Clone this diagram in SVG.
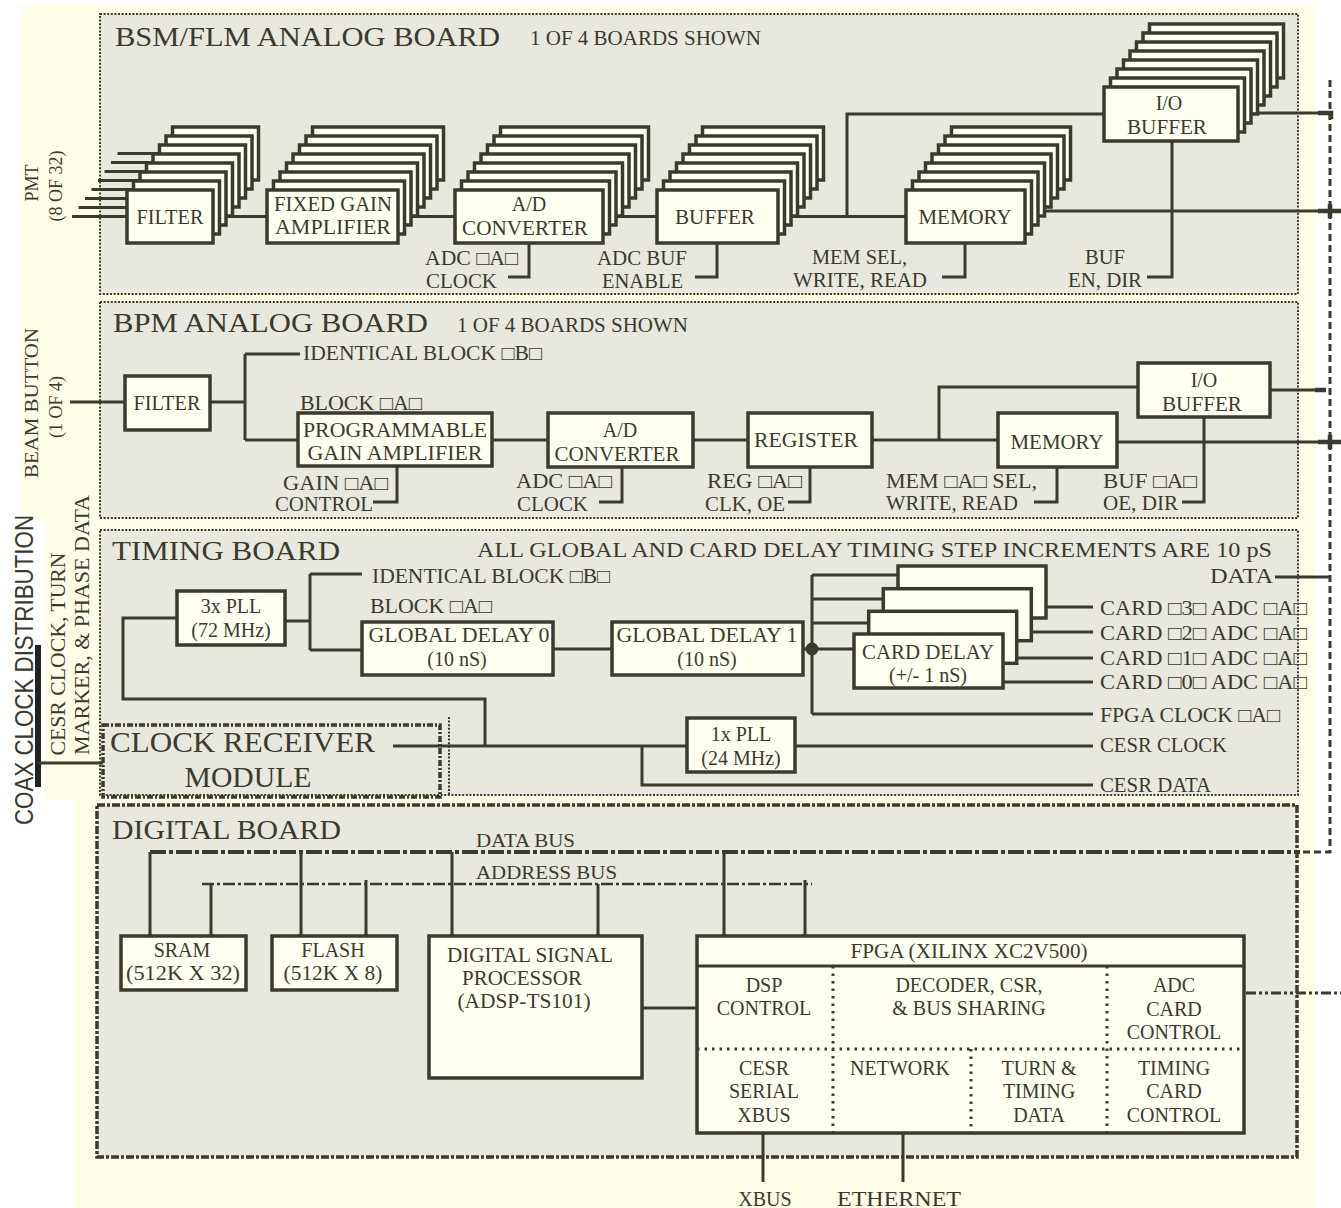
<svg xmlns="http://www.w3.org/2000/svg" width="1341" height="1208" viewBox="0 0 1341 1208">
<style>
.panel{fill:#e8e8df;stroke:#3b3a2e;stroke-width:2;stroke-dasharray:2 1.6}
.bx{fill:#fffff2;stroke:#3b3a2e;stroke-width:3.5}
.ln{fill:none;stroke:#3b3a2e;stroke-width:3}
.t{font-family:"Liberation Serif","DejaVu Serif",serif;font-size:20px;fill:#3a3a30}
.c{text-anchor:middle}
.big{font-size:28px}
.sm{font-size:19px}
</style>
<rect x="0" y="0" width="1341" height="1208" fill="#ffffff"/>
<path d="M20 5 H1315 V1208 H75 V800 H45 V520 H20 Z" fill="#fefee6"/>

<g id="boards">
<rect id="bsm-board" class="panel" x="100" y="14" width="1198" height="280"/>
<rect id="bpm-board" class="panel" x="100" y="302" width="1198" height="216"/>
<rect id="timing-board" class="panel" x="100" y="530" width="1198" height="265"/>
<rect id="digital-board" class="panel" x="97" y="805" width="1200" height="352" style="stroke-width:3.5;stroke-dasharray:8 2 3 2"/>
</g>

<g id="side-labels">
<text class="t c" transform="translate(38,183) rotate(-90)" style="font-size:18px">PMT</text>
<text class="t c" transform="translate(62,186) rotate(-90)" style="font-size:18px">(8 OF 32)</text>
<text class="t c" transform="translate(38,403) rotate(-90)" style="font-size:18px" textLength="150" lengthAdjust="spacingAndGlyphs">BEAM BUTTON</text>
<text class="t c" transform="translate(62,407) rotate(-90)" style="font-size:18px">(1 OF 4)</text>
<text class="t c" transform="translate(33,670) rotate(-90)" style="font-family:'Liberation Sans',Arial,sans-serif;font-size:25px" textLength="310" lengthAdjust="spacingAndGlyphs">COAX  CLOCK  DISTRIBUTION</text>
<text class="t c" transform="translate(65,654) rotate(-90)" textLength="203" lengthAdjust="spacingAndGlyphs">CESR CLOCK, TURN</text>
<text class="t c" transform="translate(89,625) rotate(-90)" textLength="260" lengthAdjust="spacingAndGlyphs">MARKER,  &amp; PHASE  DATA</text>
</g>

<g id="connectors" class="ln">
<path d="M72 216.5 H127 M78.5 207.5 H133.5 M85 198.5 H140 M91.5 189.5 H146.5 M98 180.5 H153 M104.5 171.5 H159.5 M111 162.5 H166 M117.5 153.5 H172.5"/>
<path d="M213 216.5 H267 M398 216.5 H455 M603 216.5 H657 M778 216.5 H906"/>
<path d="M847 216.5 V114 H1104"/>
<path d="M1025 211 H1341"/>
<path d="M1238 113 H1330"/>
<path d="M1318 113 H1331 V119" style="stroke-width:4.5"/>
<path d="M1330 204 V218 M1318 211 H1341" style="stroke-width:4.5"/>
<path d="M529 243 V277 H508 M717 243 V277 H695 M965 243 V277 H942 M1172 141 V277 H1147"/>
<path d="M70 402 H125 M210 402 H245 M245 354 V440 M245 354 H300 M245 440 H298"/>
<path d="M492 440 H548 M693 440 H748 M872 440 H998 M939 440 V387 H1138"/>
<path d="M1117 442 H1341 M1270 390 H1325"/>
<path d="M1315 390 H1326" style="stroke-width:4.5"/>
<path d="M1330 435 V449 M1318 442 H1341" style="stroke-width:4.5"/>
<path d="M397 467 V502 H373 M622 467 V502 H599 M810 467 V502 H788 M1057 467 V502 H1034 M1204 417 V502 H1182"/>
<path d="M285 621 H310 M310 574 V650 M310 574 H362 M310 650 H362"/>
<path d="M553 649 H612 M803 649 H854"/>
<path d="M812 575 V714 M812 575 H898 M812 599 H883 M812 623 H869 M812 714 H1093"/>
<path d="M1046 607 H1093 M1032 632 H1093 M1018 658 H1093 M1003 682 H1093"/>
<path d="M393 746 H687 M795 746 H1093"/>
<path d="M485 746 V699 H123 V618 H177"/>
<path d="M642 746 V785 H1093"/>
<path d="M1275 577 H1330"/>
<circle cx="812" cy="649" r="5" fill="#3b3a2e"/>
<path d="M38 645 V787" style="stroke-width:6;stroke:#222"/>
<path d="M38 763 H103"/>
<path d="M1330 80 V852 H1300" style="stroke-dasharray:7 4"/>
<path d="M150 852 H1300" style="stroke-width:4;stroke-dasharray:16 3 4 3"/>
<path d="M202 884 H812" style="stroke-width:2.5;stroke-dasharray:12 3 3 3"/>
<path d="M150 852 V936 M301 852 V936 M452 852 V936 M724 852 V936"/>
<path d="M211 884 V936 M366 880 V936 M598 884 V936 M805 880 V936"/>
<path d="M642 1008 H697"/>
<path d="M763 1133 V1182 M903 1133 V1182"/>
<path d="M1246 993 H1341" style="stroke-dasharray:10 3 3 3 3 3"/>
</g>

<g id="bsm-title">
<text class="t big" x="115" y="46" textLength="385" lengthAdjust="spacingAndGlyphs">BSM/FLM ANALOG  BOARD</text>
<text class="t" x="530" y="45" textLength="231" lengthAdjust="spacingAndGlyphs">1 OF 4 BOARDS SHOWN</text>
</g>
<g id="bsm-filter">
<rect class="bx" x="172.5" y="127" width="86" height="53"/>
<rect class="bx" x="166" y="136" width="86" height="53"/>
<rect class="bx" x="159.5" y="145" width="86" height="53"/>
<rect class="bx" x="153" y="154" width="86" height="53"/>
<rect class="bx" x="146.5" y="163" width="86" height="53"/>
<rect class="bx" x="140" y="172" width="86" height="53"/>
<rect class="bx" x="133.5" y="181" width="86" height="53"/>
<rect class="bx" x="127" y="190" width="86" height="53"/>
<text class="t c" x="170" y="224" textLength="67" lengthAdjust="spacingAndGlyphs">FILTER</text>
</g>
<g id="bsm-fixed-gain-amplifier">
<rect class="bx" x="312.5" y="127" width="131" height="53"/>
<rect class="bx" x="306" y="136" width="131" height="53"/>
<rect class="bx" x="299.5" y="145" width="131" height="53"/>
<rect class="bx" x="293" y="154" width="131" height="53"/>
<rect class="bx" x="286.5" y="163" width="131" height="53"/>
<rect class="bx" x="280" y="172" width="131" height="53"/>
<rect class="bx" x="273.5" y="181" width="131" height="53"/>
<rect class="bx" x="267" y="190" width="131" height="53"/>
<text class="t c" x="333" y="211" textLength="118" lengthAdjust="spacingAndGlyphs">FIXED GAIN</text>
<text class="t c" x="333" y="234" textLength="116" lengthAdjust="spacingAndGlyphs">AMPLIFIER</text>
</g>
<g id="bsm-ad-converter">
<rect class="bx" x="500.5" y="127" width="148" height="53"/>
<rect class="bx" x="494" y="136" width="148" height="53"/>
<rect class="bx" x="487.5" y="145" width="148" height="53"/>
<rect class="bx" x="481" y="154" width="148" height="53"/>
<rect class="bx" x="474.5" y="163" width="148" height="53"/>
<rect class="bx" x="468" y="172" width="148" height="53"/>
<rect class="bx" x="461.5" y="181" width="148" height="53"/>
<rect class="bx" x="455" y="190" width="148" height="53"/>
<text class="t c" x="529" y="211">A/D</text>
<text class="t c" x="525" y="235" textLength="126" lengthAdjust="spacingAndGlyphs">CONVERTER</text>
</g>
<g id="bsm-buffer">
<rect class="bx" x="702.5" y="127" width="121" height="53"/>
<rect class="bx" x="696" y="136" width="121" height="53"/>
<rect class="bx" x="689.5" y="145" width="121" height="53"/>
<rect class="bx" x="683" y="154" width="121" height="53"/>
<rect class="bx" x="676.5" y="163" width="121" height="53"/>
<rect class="bx" x="670" y="172" width="121" height="53"/>
<rect class="bx" x="663.5" y="181" width="121" height="53"/>
<rect class="bx" x="657" y="190" width="121" height="53"/>
<text class="t c" x="715" y="224" textLength="80" lengthAdjust="spacingAndGlyphs">BUFFER</text>
</g>
<g id="bsm-memory">
<rect class="bx" x="951.5" y="127" width="119" height="53"/>
<rect class="bx" x="945" y="136" width="119" height="53"/>
<rect class="bx" x="938.5" y="145" width="119" height="53"/>
<rect class="bx" x="932" y="154" width="119" height="53"/>
<rect class="bx" x="925.5" y="163" width="119" height="53"/>
<rect class="bx" x="919" y="172" width="119" height="53"/>
<rect class="bx" x="912.5" y="181" width="119" height="53"/>
<rect class="bx" x="906" y="190" width="119" height="53"/>
<text class="t c" x="965" y="224" textLength="93" lengthAdjust="spacingAndGlyphs">MEMORY</text>
</g>
<g id="bsm-io-buffer">
<rect class="bx" x="1149.5" y="24" width="134" height="54"/>
<rect class="bx" x="1143" y="33" width="134" height="54"/>
<rect class="bx" x="1136.5" y="42" width="134" height="54"/>
<rect class="bx" x="1130" y="51" width="134" height="54"/>
<rect class="bx" x="1123.5" y="60" width="134" height="54"/>
<rect class="bx" x="1117" y="69" width="134" height="54"/>
<rect class="bx" x="1110.5" y="78" width="134" height="54"/>
<rect class="bx" x="1104" y="87" width="134" height="54"/>
<text class="t c" x="1169" y="110">I/O</text>
<text class="t c" x="1167" y="134" textLength="80" lengthAdjust="spacingAndGlyphs">BUFFER</text>
</g>
<g id="bsm-labels">
<text class="t" x="425" y="265" textLength="93" lengthAdjust="spacingAndGlyphs">ADC □A□</text>
<text class="t" x="426" y="288" textLength="71" lengthAdjust="spacingAndGlyphs">CLOCK</text>
<text class="t" x="597" y="265" textLength="90" lengthAdjust="spacingAndGlyphs">ADC BUF</text>
<text class="t" x="602" y="288" textLength="81" lengthAdjust="spacingAndGlyphs">ENABLE</text>
<text class="t" x="812" y="264" textLength="95" lengthAdjust="spacingAndGlyphs">MEM SEL,</text>
<text class="t" x="793" y="287" textLength="134" lengthAdjust="spacingAndGlyphs">WRITE, READ</text>
<text class="t" x="1085" y="264" textLength="40" lengthAdjust="spacingAndGlyphs">BUF</text>
<text class="t" x="1068" y="287" textLength="74" lengthAdjust="spacingAndGlyphs">EN, DIR</text>
</g>

<g id="bpm-title">
<text class="t big" x="113" y="332" textLength="315" lengthAdjust="spacingAndGlyphs">BPM ANALOG  BOARD</text>
<text class="t" x="457" y="332" textLength="231" lengthAdjust="spacingAndGlyphs">1 OF 4 BOARDS SHOWN</text>
</g>
<g id="bpm-filter">
<rect class="bx" x="125" y="376" width="85" height="54"/>
<text class="t c" x="167" y="410" textLength="67" lengthAdjust="spacingAndGlyphs">FILTER</text>
</g>
<g id="bpm-pga">
<rect class="bx" x="298" y="413" width="194" height="53"/>
<text class="t c" x="395" y="437" textLength="184" lengthAdjust="spacingAndGlyphs">PROGRAMMABLE</text>
<text class="t c" x="395" y="460" textLength="175" lengthAdjust="spacingAndGlyphs">GAIN AMPLIFIER</text>
</g>
<g id="bpm-ad-converter">
<rect class="bx" x="548" y="413" width="145" height="54"/>
<text class="t c" x="620" y="437">A/D</text>
<text class="t c" x="617" y="461" textLength="125" lengthAdjust="spacingAndGlyphs">CONVERTER</text>
</g>
<g id="bpm-register">
<rect class="bx" x="748" y="413" width="124" height="54"/>
<text class="t c" x="806" y="447" textLength="104" lengthAdjust="spacingAndGlyphs">REGISTER</text>
</g>
<g id="bpm-memory">
<rect class="bx" x="998" y="413" width="119" height="54"/>
<text class="t c" x="1057" y="449" textLength="93" lengthAdjust="spacingAndGlyphs">MEMORY</text>
</g>
<g id="bpm-io-buffer">
<rect class="bx" x="1138" y="363" width="132" height="54"/>
<text class="t c" x="1204" y="387">I/O</text>
<text class="t c" x="1202" y="411" textLength="80" lengthAdjust="spacingAndGlyphs">BUFFER</text>
</g>
<g id="bpm-labels">
<text class="t" x="303" y="360" textLength="239" lengthAdjust="spacingAndGlyphs">IDENTICAL BLOCK □B□</text>
<text class="t" x="300" y="410" textLength="122" lengthAdjust="spacingAndGlyphs">BLOCK □A□</text>
<text class="t" x="283" y="490" textLength="105" lengthAdjust="spacingAndGlyphs">GAIN □A□</text>
<text class="t" x="275" y="511" textLength="98" lengthAdjust="spacingAndGlyphs">CONTROL</text>
<text class="t" x="516" y="488" textLength="96" lengthAdjust="spacingAndGlyphs">ADC □A□</text>
<text class="t" x="517" y="511" textLength="71" lengthAdjust="spacingAndGlyphs">CLOCK</text>
<text class="t" x="707" y="488" textLength="95" lengthAdjust="spacingAndGlyphs">REG □A□</text>
<text class="t" x="705" y="511" textLength="80" lengthAdjust="spacingAndGlyphs">CLK, OE</text>
<text class="t" x="886" y="488" textLength="151" lengthAdjust="spacingAndGlyphs">MEM □A□ SEL,</text>
<text class="t" x="886" y="510" textLength="132" lengthAdjust="spacingAndGlyphs">WRITE, READ</text>
<text class="t" x="1103" y="488" textLength="94" lengthAdjust="spacingAndGlyphs">BUF □A□</text>
<text class="t" x="1103" y="510" textLength="75" lengthAdjust="spacingAndGlyphs">OE, DIR</text>
</g>

<g id="timing-title">
<text class="t big" x="112" y="560" textLength="228" lengthAdjust="spacingAndGlyphs">TIMING  BOARD</text>
<text class="t" x="477" y="557" style="font-size:21px" textLength="795" lengthAdjust="spacingAndGlyphs">ALL GLOBAL AND CARD DELAY TIMING STEP INCREMENTS ARE 10 pS</text>
</g>
<g id="pll-3x">
<rect class="bx" x="177" y="591" width="108" height="54"/>
<text class="t c" x="231" y="613">3x PLL</text>
<text class="t c" x="231" y="637">(72 MHz)</text>
</g>
<g id="global-delay-0">
<rect class="bx" x="362" y="622" width="191" height="53"/>
<text class="t c" x="459" y="642" textLength="181" lengthAdjust="spacingAndGlyphs">GLOBAL  DELAY 0</text>
<text class="t c" x="457" y="666">(10 nS)</text>
</g>
<g id="global-delay-1">
<rect class="bx" x="612" y="622" width="191" height="53"/>
<text class="t c" x="707" y="642" textLength="181" lengthAdjust="spacingAndGlyphs">GLOBAL  DELAY 1</text>
<text class="t c" x="707" y="666">(10 nS)</text>
</g>
<g id="card-delay">
<rect class="bx" x="898" y="566" width="148" height="52"/>
<rect class="bx" x="883.3" y="588.7" width="148" height="52"/>
<rect class="bx" x="868.7" y="611.3" width="148" height="52"/>
<rect class="bx" x="854" y="634" width="149" height="54"/>
<text class="t c" x="928" y="659" textLength="132" lengthAdjust="spacingAndGlyphs">CARD DELAY</text>
<text class="t c" x="928" y="682">(+/- 1 nS)</text>
</g>
<g id="pll-1x">
<rect class="bx" x="687" y="718" width="108" height="54"/>
<text class="t c" x="741" y="741">1x PLL</text>
<text class="t c" x="741" y="765">(24 MHz)</text>
</g>
<g id="clock-receiver-module">
<rect x="103" y="725" width="337" height="72" fill="none" stroke="#3b3a2e" stroke-width="3.5" stroke-dasharray="6 2 2 2"/>
<path d="M449 717 V796" fill="none" stroke="#3b3a2e" stroke-width="2" stroke-dasharray="2 1.6"/>
<text class="t big" x="110" y="752" style="font-size:29px" textLength="265" lengthAdjust="spacingAndGlyphs">CLOCK  RECEIVER</text>
<text class="t big c" x="248" y="787" style="font-size:29px" textLength="127" lengthAdjust="spacingAndGlyphs">MODULE</text>
</g>
<g id="timing-labels">
<text class="t" x="372" y="583" textLength="238" lengthAdjust="spacingAndGlyphs">IDENTICAL BLOCK □B□</text>
<text class="t" x="370" y="613" textLength="122" lengthAdjust="spacingAndGlyphs">BLOCK □A□</text>
<text class="t" x="1210" y="583" textLength="63" lengthAdjust="spacingAndGlyphs">DATA</text>
<text class="t" x="1100" y="615" textLength="207" lengthAdjust="spacingAndGlyphs">CARD □3□ ADC □A□</text>
<text class="t" x="1100" y="640" textLength="207" lengthAdjust="spacingAndGlyphs">CARD □2□ ADC □A□</text>
<text class="t" x="1100" y="665" textLength="207" lengthAdjust="spacingAndGlyphs">CARD □1□ ADC □A□</text>
<text class="t" x="1100" y="689" textLength="207" lengthAdjust="spacingAndGlyphs">CARD □0□ ADC □A□</text>
<text class="t" x="1100" y="722" textLength="180" lengthAdjust="spacingAndGlyphs">FPGA CLOCK □A□</text>
<text class="t" x="1100" y="752" textLength="127" lengthAdjust="spacingAndGlyphs">CESR CLOCK</text>
<text class="t" x="1100" y="792" textLength="111" lengthAdjust="spacingAndGlyphs">CESR DATA</text>
</g>

<g id="digital-title">
<text class="t big" x="112" y="839" textLength="229" lengthAdjust="spacingAndGlyphs">DIGITAL BOARD</text>
<text class="t sm" x="476" y="847" textLength="99" lengthAdjust="spacingAndGlyphs">DATA BUS</text>
<text class="t sm" x="476" y="879" textLength="141" lengthAdjust="spacingAndGlyphs">ADDRESS BUS</text>
</g>
<g id="sram">
<rect class="bx" x="121" y="936" width="125" height="54"/>
<text class="t c" x="182" y="957">SRAM</text>
<text class="t c" x="183" y="980" textLength="114" lengthAdjust="spacingAndGlyphs">(512K X 32)</text>
</g>
<g id="flash">
<rect class="bx" x="272" y="936" width="125" height="54"/>
<text class="t c" x="333" y="957">FLASH</text>
<text class="t c" x="333" y="980" textLength="99" lengthAdjust="spacingAndGlyphs">(512K X 8)</text>
</g>
<g id="dsp">
<rect class="bx" x="429" y="936" width="213" height="142"/>
<text class="t c" x="530" y="962" textLength="166" lengthAdjust="spacingAndGlyphs">DIGITAL SIGNAL</text>
<text class="t c" x="522" y="985" textLength="120" lengthAdjust="spacingAndGlyphs">PROCESSOR</text>
<text class="t c" x="524" y="1008" textLength="133" lengthAdjust="spacingAndGlyphs">(ADSP-TS101)</text>
</g>
<g id="fpga">
<rect class="bx" x="697" y="936" width="547" height="197"/>
<path d="M697 966 H1244" fill="none" stroke="#3b3a2e" stroke-width="3"/>
<path d="M697 1049 H1244 M833 966 V1133 M1107 966 V1133 M971 1049 V1133" fill="none" stroke="#3b3a2e" stroke-width="3" stroke-dasharray="2.5 5"/>
<text class="t c" x="969" y="958" textLength="237" lengthAdjust="spacingAndGlyphs">FPGA (XILINX XC2V500)</text>
<text class="t c" x="764" y="992">DSP</text>
<text class="t c" x="764" y="1015">CONTROL</text>
<text class="t c" x="969" y="992">DECODER, CSR,</text>
<text class="t c" x="969" y="1015">&amp; BUS SHARING</text>
<text class="t c" x="1174" y="992">ADC</text>
<text class="t c" x="1174" y="1016">CARD</text>
<text class="t c" x="1174" y="1039">CONTROL</text>
<text class="t c" x="764" y="1075">CESR</text>
<text class="t c" x="764" y="1098">SERIAL</text>
<text class="t c" x="764" y="1122">XBUS</text>
<text class="t c" x="900" y="1075">NETWORK</text>
<text class="t c" x="1039" y="1075">TURN &amp;</text>
<text class="t c" x="1039" y="1098">TIMING</text>
<text class="t c" x="1039" y="1122">DATA</text>
<text class="t c" x="1174" y="1075">TIMING</text>
<text class="t c" x="1174" y="1098">CARD</text>
<text class="t c" x="1174" y="1122">CONTROL</text>
</g>
<g id="external-labels">
<text class="t c" x="765" y="1206">XBUS</text>
<text class="t c" x="899" y="1206" textLength="124" lengthAdjust="spacingAndGlyphs">ETHERNET</text>
</g>
</svg>
